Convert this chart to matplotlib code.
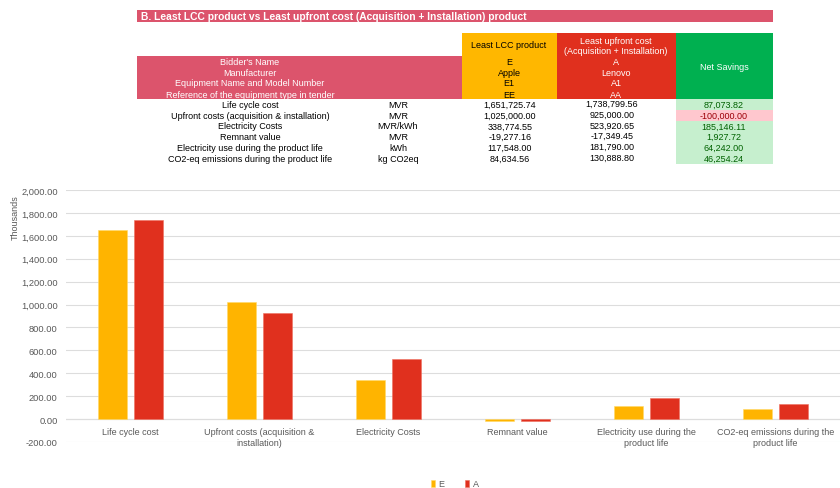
import matplotlib
matplotlib.use("Agg")
import matplotlib.pyplot as plt
from matplotlib.patches import Rectangle
from matplotlib.ticker import FuncFormatter
import numpy as np

plt.rcParams['font.family'] = ['Liberation Sans', 'DejaVu Sans']

title = "B. Least LCC product vs Least upfront cost (Acquisition + Installation) product"

info_labels = ["Bidder's Name", "Manufacturer", "Equipment Name and Model Number",
               "Reference of the equipment type in tender"]
e_info = ["E", "Apple", "E1", "EE"]
a_info = ["A", "Lenovo", "A1", "AA"]

row_labels = ["Life cycle cost", "Upfront costs (acquisition & installation)",
              "Electricity Costs", "Remnant value",
              "Electricity use during the product life",
              "CO2-eq emissions during the product life"]
units = ["MVR", "MVR", "MVR/kWh", "MVR", "kWh", "kg CO2eq"]
e_vals = [1651725.74, 1025000.00, 338774.55, -19277.16, 117548.00, 84634.56]
a_vals = [1738799.56, 925000.00, 523920.65, -17349.45, 181790.00, 130888.80]
savings = [87073.82, -100000.00, 185146.11, 1927.72, 64242.00, 46254.24]

categories = ["Life cycle cost", "Upfront costs (acquisition &\ninstallation)",
              "Electricity Costs", "Remnant value",
              "Electricity use during the\nproduct life",
              "CO2-eq emissions during the\nproduct life"]

PINK = '#DC546C'
YEL = '#FFB700'
RED = '#E0301E'
GRN = '#00B050'
fs = 6.5

fig = plt.figure(figsize=(8.4, 4.89), dpi=100)

# overlay in pixel coordinates for the sheet part
ov = fig.add_axes([0, 0, 1, 1], zorder=0)
ov.set_xlim(0, 840)
ov.set_ylim(489, 0)
ov.axis('off')

def box(x0, y0, x1, y1, c):
    ov.add_patch(Rectangle((x0, y0), x1 - x0, y1 - y0, facecolor=c, edgecolor='none'))

box(137, 11, 773, 23, PINK)
ov.text(141, 17.5, title, color='white', fontsize=7.4, fontweight='bold', va='center', ha='left')

box(137, 57, 462, 100, PINK)
box(462, 34, 557, 100, YEL)
box(557, 34, 676, 100, RED)
box(676, 34, 773, 100, GRN)

ov.text(509, 46, "Least LCC product", fontsize=fs, ha='center', va='center', color='black')
ov.text(616, 42, "Least upfront cost", fontsize=fs, ha='center', va='center', color='white')
ov.text(616, 52, "(Acquisition + Installation)", fontsize=fs, ha='center', va='center', color='white')
ov.text(724, 67, "Net Savings", fontsize=fs, ha='center', va='center', color='white')

info_y = [62.5, 73, 84, 95]
for y, lab, e, a in zip(info_y, info_labels, e_info, a_info):
    ov.text(250, y, lab, fontsize=fs, ha='center', va='center', color='white')
    ov.text(509, y, e, fontsize=fs, ha='center', va='center', color='black')
    ov.text(616, y, a, fontsize=fs, ha='center', va='center', color='white')

row_h = 10.75
y0 = 100
for i, (lab, u, e, a, s) in enumerate(zip(row_labels, units, e_vals, a_vals, savings)):
    yt, yc = y0 + i * row_h, y0 + (i + 0.5) * row_h
    bg = '#FFC7CE' if s < 0 else '#C6EFCE'
    tc = '#9C0006' if s < 0 else '#006100'
    box(676, yt, 773, yt + row_h, bg)
    ov.text(250, yc, lab, fontsize=fs, ha='center', va='center')
    ov.text(398, yc, u, fontsize=fs, ha='center', va='center')
    ov.text(510, yc, f"{e:,.2f}", fontsize=fs, ha='center', va='center')
    ov.text(612, yc - 1, f"{a:,.2f}", fontsize=fs, ha='center', va='center')
    ov.text(724, yc, f"{s:,.2f}", fontsize=fs, ha='center', va='center', color=tc)

# chart
ax = fig.add_axes([66 / 840, (489 - 443) / 489, (840 - 66) / 840, (443 - 191) / 489], zorder=1)
ax.patch.set_alpha(0)
x = np.arange(len(categories))
w = 0.225
gap = 0.058
e_k = np.array(e_vals) / 1000
a_k = np.array(a_vals) / 1000
b1 = ax.bar(x - (w + gap) / 2, e_k, w, color='#FFB400', edgecolor='#FFD966', linewidth=0.4, label='E', zorder=2)
b2 = ax.bar(x + (w + gap) / 2, a_k, w, color=RED, edgecolor='#EE7060', linewidth=0.4, label='A', zorder=2)

ax.set_xlim(-0.5, len(categories) - 0.5)
ax.set_ylim(-200, 2000)
ax.set_yticks(np.arange(-200, 2001, 200))
ax.yaxis.set_major_formatter(FuncFormatter(lambda v, p: f"{v:,.2f}"))
ax.tick_params(axis='y', length=0, pad=6, labelsize=6.7, labelcolor='#595959')
ax.set_xticks([])
ax.grid(axis='y', color='#DDDDDD', linewidth=0.8, zorder=0)
for s in ax.spines.values():
    s.set_visible(False)
ax.axhline(0, color='#D9D9D9', linewidth=0.8, zorder=1)
for xi, lab in zip(x, categories):
    ax.annotate(lab, (xi, 0), xytext=(0, -5.5), textcoords='offset points',
                ha='center', va='top', fontsize=fs, color='#595959', linespacing=1.35)

fig.text(15 / 840, 1 - 218 / 489, "Thousands", rotation=90, fontsize=fs, color='#595959',
         ha='center', va='center')

fig.legend(handles=[b1, b2], labels=['E', 'A'], loc='center', ncol=2,
           bbox_to_anchor=(455 / 840, 1 - 485 / 489), frameon=False, fontsize=fs,
           handlelength=0.45, handleheight=0.9, handletextpad=0.4, columnspacing=2.3,
           labelcolor='#595959')

fig.savefig('out.png', dpi=100)
